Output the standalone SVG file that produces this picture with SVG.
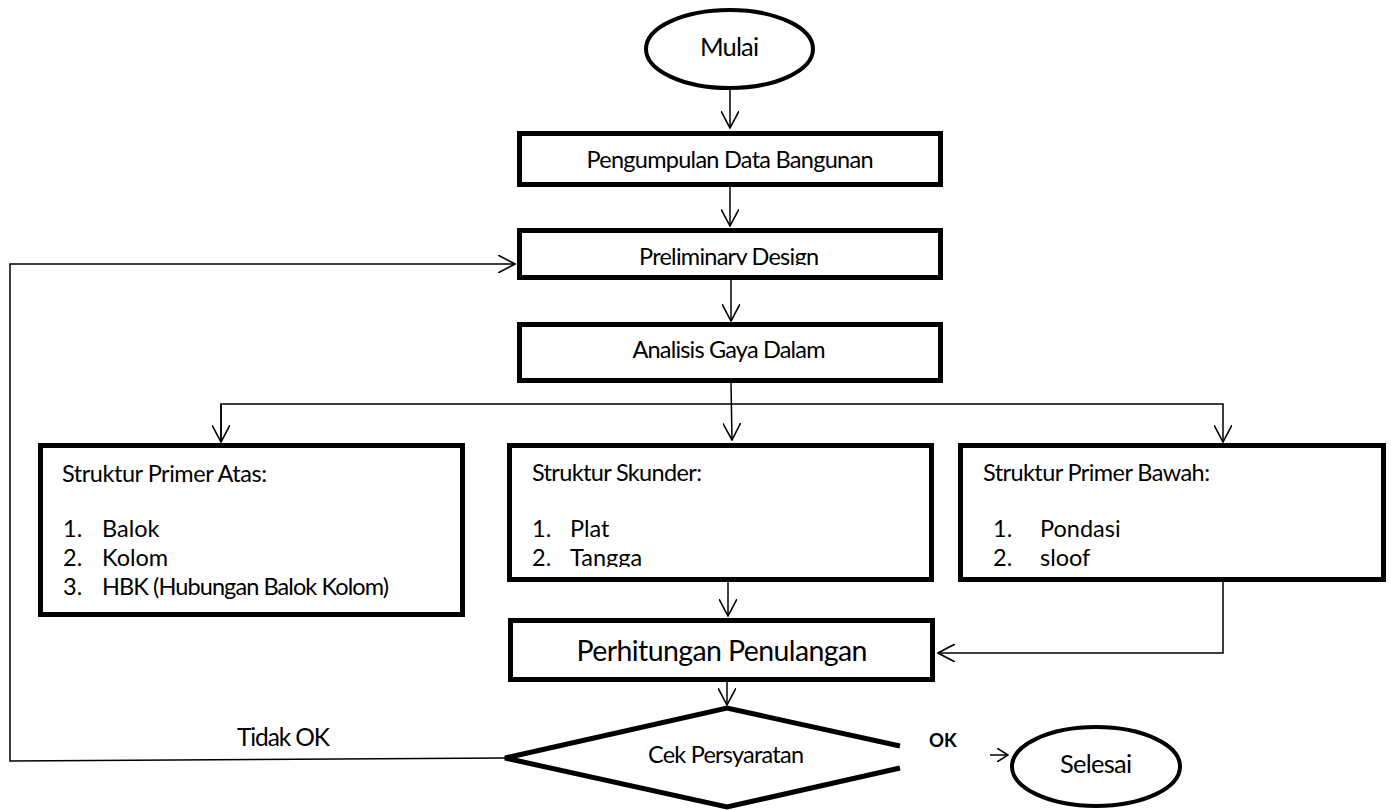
<svg xmlns="http://www.w3.org/2000/svg" width="1391" height="810" viewBox="0 0 1391 810">
<style>
.box{fill:#fff;stroke:#000;stroke-width:5}
.term{fill:#fff;stroke:#000;stroke-width:4}
.con{fill:none;stroke:#000;stroke-width:1.5}
text{font-family:Lato,"Liberation Sans",sans-serif;fill:#000;font-size:23.5px}
.c{text-anchor:middle}
.big{font-size:28.5px}
.term-t{font-size:25.5px}
.bold{font-weight:bold;font-size:18.5px}
</style>
<defs>
<marker id="arr" viewBox="0 0 18 18" refX="17" refY="9" markerWidth="18" markerHeight="18" markerUnits="userSpaceOnUse" orient="auto">
<path d="M0,0 L17,9 L0,18" fill="none" stroke="#000" stroke-width="1.6"/>
</marker>
<marker id="arrs" viewBox="0 0 12 14" refX="11" refY="7" markerWidth="12" markerHeight="14" markerUnits="userSpaceOnUse" orient="auto">
<path d="M0,0 L11,7 L0,14" fill="none" stroke="#000" stroke-width="1.5"/>
</marker>
<clipPath id="clipPre"><rect x="517" y="228" width="426" height="37"/></clipPath>
<clipPath id="clipSk"><rect x="507" y="443" width="427" height="124"/></clipPath>
</defs>

<g id="connectors">
<line class="con" x1="730" y1="90" x2="730" y2="128" marker-end="url(#arr)"/>
<line class="con" x1="730" y1="187" x2="730" y2="226" marker-end="url(#arr)"/>
<line class="con" x1="731" y1="280" x2="731" y2="321" marker-end="url(#arr)"/>
<line class="con" x1="731" y1="383" x2="732" y2="440" marker-end="url(#arr)"/>
<polyline class="con" points="221,442 221,404 1223,404 1223,442" marker-end="url(#arr)"/>
<line class="con" x1="221" y1="404" x2="221" y2="442" marker-end="url(#arr)"/>
<line class="con" x1="728" y1="582" x2="728" y2="616" marker-end="url(#arr)"/>
<polyline class="con" points="1223,582 1223,653 938,653" marker-end="url(#arr)"/>
<line class="con" x1="727" y1="682" x2="727" y2="705" marker-end="url(#arr)"/>
<polyline class="con" points="505,758 10,761 10,264 515,264" marker-end="url(#arr)"/>
<line class="con" x1="990" y1="755" x2="1008" y2="755" marker-end="url(#arrs)"/>
</g>

<g id="mulai">
<ellipse class="term" cx="729.5" cy="49" rx="83.5" ry="39"/>
<text class="c term-t" x="729.5" y="56" textLength="59">Mulai</text>
</g>

<g id="pengumpulan">
<rect class="box" x="519.5" y="133.5" width="421" height="51"/>
<text class="c" x="730" y="168" textLength="287">Pengumpulan Data Bangunan</text>
</g>

<g id="preliminary">
<rect class="box" x="519.5" y="230.5" width="421" height="47"/>
<text class="c" x="729" y="265" textLength="180" clip-path="url(#clipPre)">Preliminary Design</text>
</g>

<g id="analisis">
<rect class="box" x="519.5" y="324.5" width="421" height="56"/>
<text class="c" x="729" y="358" textLength="193">Analisis Gaya Dalam</text>
</g>

<g id="primer-atas">
<rect class="box" x="40.5" y="445.5" width="422" height="169"/>
<text x="62" y="482" textLength="205">Struktur Primer Atas:</text>
<text x="63" y="537">1.</text>
<text x="102" y="537">Balok</text>
<text x="63" y="566">2.</text>
<text x="102" y="566">Kolom</text>
<text x="63" y="595">3.</text>
<text x="102" y="595" textLength="287">HBK (Hubungan Balok Kolom)</text>
</g>

<g id="skunder">
<rect class="box" x="509.5" y="445.5" width="422" height="134"/>
<text x="532" y="481" textLength="170">Struktur Skunder:</text>
<text x="532" y="537">1.</text>
<text x="570" y="537">Plat</text>
<g clip-path="url(#clipSk)">
<text x="532" y="566">2.</text>
<text x="570" y="566">Tangga</text>
</g>
</g>

<g id="primer-bawah">
<rect class="box" x="960.5" y="445.5" width="423" height="134"/>
<text x="983" y="481" textLength="227">Struktur Primer Bawah:</text>
<text x="993" y="537">1.</text>
<text x="1040" y="537">Pondasi</text>
<text x="993" y="566">2.</text>
<text x="1040" y="566">sloof</text>
</g>

<g id="perhitungan">
<rect class="box" x="510.5" y="620.5" width="422" height="59"/>
<text class="c big" x="722" y="661" textLength="291">Perhitungan Penulangan</text>
</g>

<g id="cek">
<polygon points="900,746 727,708 505,758 727,807 900,768" fill="#fff" stroke="none"/>
<polyline points="900,746 727,708 505,758 727,807 900,768" fill="none" stroke="#000" stroke-width="5" stroke-linejoin="miter"/>
<text class="c" x="726" y="763" textLength="156">Cek Persyaratan</text>
</g>

<g id="labels">
<text x="237" y="746" textLength="93" style="font-size:24.5px">Tidak OK</text>
<text class="bold" x="929" y="747">OK</text>
</g>

<g id="selesai">
<ellipse class="term" cx="1096" cy="766.5" rx="84" ry="39.5"/>
<text class="c term-t" x="1096" y="773" textLength="72">Selesai</text>
</g>
</svg>
